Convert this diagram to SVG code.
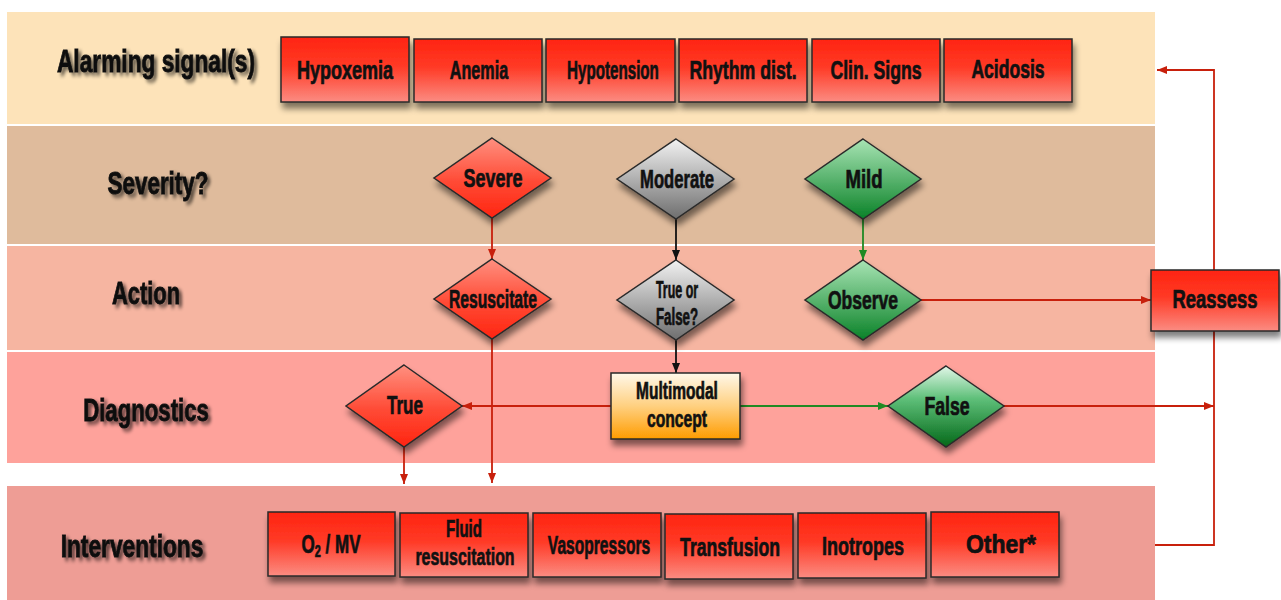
<svg xmlns="http://www.w3.org/2000/svg" width="1281" height="600" viewBox="0 0 1281 600">
<defs>
<style>
.t{font-family:"Liberation Sans",Arial,sans-serif;font-weight:bold;font-size:25px;fill:#111;stroke:#111;stroke-width:0.7;text-anchor:middle}
.h{font-size:32px;stroke-width:0.9;filter:url(#ts)}
.s{font-size:23px}
.box{fill:url(#gBox);stroke:#2a2a2a;stroke-width:1.5;filter:url(#ds)}
.dr{fill:url(#gDR);stroke:#2a2a2a;stroke-width:1.5;filter:url(#ds)}
.dg{fill:url(#gGrey);stroke:#2a2a2a;stroke-width:1.5;filter:url(#ds)}
.dn{fill:url(#gGreen);stroke:#2a2a2a;stroke-width:1.5;filter:url(#ds)}
.dn2{fill:url(#gGreen2);stroke:#2a2a2a;stroke-width:1.5;filter:url(#ds)}
.bo{fill:url(#gOr);stroke:#2a2a2a;stroke-width:1.5;filter:url(#ds)}
.cr{stroke:#c8200c;stroke-width:1.8;fill:none}
.cb{stroke:#111;stroke-width:1.8;fill:none}
.cg{stroke:#1f8a24;stroke-width:1.8;fill:none}
</style>
<linearGradient id="gBox" x1="0" y1="0" x2="0" y2="1"><stop offset="0" stop-color="#ff2410"/><stop offset="0.45" stop-color="#ff3a26"/><stop offset="1" stop-color="#fb8c82"/></linearGradient>
<linearGradient id="gDR" x1="0" y1="0" x2="0" y2="1"><stop offset="0" stop-color="#ff9080"/><stop offset="0.55" stop-color="#ff4a35"/><stop offset="1" stop-color="#ff2410"/></linearGradient>
<linearGradient id="gGrey" x1="0" y1="0" x2="0" y2="1"><stop offset="0" stop-color="#f2f2f2"/><stop offset="1" stop-color="#6e6e6e"/></linearGradient>
<linearGradient id="gGreen" x1="0" y1="0" x2="0" y2="1"><stop offset="0" stop-color="#a8e4b4"/><stop offset="1" stop-color="#0a8228"/></linearGradient>
<linearGradient id="gGreen2" x1="0" y1="0" x2="0" y2="1"><stop offset="0" stop-color="#e2f7e8"/><stop offset="0.4" stop-color="#5fc07a"/><stop offset="1" stop-color="#046818"/></linearGradient>
<linearGradient id="gOr" x1="0" y1="0" x2="0" y2="1"><stop offset="0" stop-color="#fff8ea"/><stop offset="0.5" stop-color="#ffd080"/><stop offset="1" stop-color="#ff9c00"/></linearGradient>
<filter id="ds" x="-15%" y="-15%" width="140%" height="150%"><feGaussianBlur in="SourceAlpha" stdDeviation="3"/><feOffset dx="2" dy="6"/><feComponentTransfer><feFuncA type="linear" slope="0.5"/></feComponentTransfer><feMerge><feMergeNode/><feMergeNode in="SourceGraphic"/></feMerge></filter>
<filter id="ts" x="-10%" y="-30%" width="130%" height="170%"><feGaussianBlur in="SourceAlpha" stdDeviation="2"/><feOffset dx="4" dy="3"/><feComponentTransfer><feFuncA type="linear" slope="0.6"/></feComponentTransfer><feMerge><feMergeNode/><feMergeNode in="SourceGraphic"/></feMerge></filter>
<marker id="mr" viewBox="0 0 10 8" refX="10" refY="4" markerWidth="10" markerHeight="8" markerUnits="userSpaceOnUse" orient="auto"><path d="M0,0 L10,4 L0,8 z" fill="#c8200c"/></marker>
<marker id="mb" viewBox="0 0 10 8" refX="10" refY="4" markerWidth="10" markerHeight="8" markerUnits="userSpaceOnUse" orient="auto"><path d="M0,0 L10,4 L0,8 z" fill="#111"/></marker>
<marker id="mg" viewBox="0 0 10 8" refX="10" refY="4" markerWidth="10" markerHeight="8" markerUnits="userSpaceOnUse" orient="auto"><path d="M0,0 L10,4 L0,8 z" fill="#1f8a24"/></marker>
</defs>
<rect width="1281" height="600" fill="#ffffff"/>
<g id="bands">
<rect x="7" y="12" width="1148" height="112" fill="#fde3b9"/>
<rect x="7" y="126" width="1148" height="118" fill="#dfbb9c"/>
<rect x="7" y="246" width="1148" height="104" fill="#f6b5a1"/>
<rect x="7" y="352" width="1148" height="111" fill="#fea29b"/>
<rect x="7" y="486" width="1148" height="114" fill="#ee9d95"/>
</g>
<g id="row-labels">
<text class="t h" transform="translate(156,72) scale(0.71,1)" textLength="279" lengthAdjust="spacingAndGlyphs">Alarming signal(s)</text>
<text class="t h" transform="translate(158,194) scale(0.71,1)" textLength="142" lengthAdjust="spacingAndGlyphs">Severity?</text>
<text class="t h" transform="translate(146,304) scale(0.71,1)" textLength="96" lengthAdjust="spacingAndGlyphs">Action</text>
<text class="t h" transform="translate(146,421) scale(0.71,1)" textLength="177" lengthAdjust="spacingAndGlyphs">Diagnostics</text>
<text class="t h" transform="translate(132,557) scale(0.71,1)" textLength="201" lengthAdjust="spacingAndGlyphs">Interventions</text>
</g>
<g id="connectors">
<line class="cr" x1="492" y1="218" x2="492" y2="259" marker-end="url(#mr)"/>
<line class="cb" x1="676" y1="219" x2="676" y2="260" marker-end="url(#mb)"/>
<line class="cg" x1="863" y1="219" x2="863" y2="260" marker-end="url(#mg)"/>
<line class="cr" x1="492" y1="339" x2="492" y2="483" marker-end="url(#mr)"/>
<line class="cb" x1="676" y1="340" x2="676" y2="373" marker-end="url(#mb)"/>
<line class="cr" x1="611" y1="406" x2="462" y2="406" marker-end="url(#mr)"/>
<line class="cg" x1="740" y1="406" x2="888" y2="406" marker-end="url(#mg)"/>
<line class="cr" x1="404" y1="447" x2="404" y2="484" marker-end="url(#mr)"/>
<line class="cr" x1="921" y1="300" x2="1151" y2="300" marker-end="url(#mr)"/>
<line class="cr" x1="1004" y1="406" x2="1214" y2="406" marker-end="url(#mr)"/>
<polyline class="cr" points="1214,270 1214,70 1157,70" marker-end="url(#mr)"/>
<polyline class="cr" points="1214,331 1214,545 1155,545"/>
</g>
<g id="n-hypoxemia"><rect class="box" x="281" y="37" width="128" height="65"/><text class="t" transform="translate(345,79) scale(0.62,1)" textLength="155" lengthAdjust="spacingAndGlyphs">Hypoxemia</text></g>
<g id="n-anemia"><rect class="box" x="414" y="39" width="128" height="63"/><text class="t" transform="translate(479,79) scale(0.62,1)" textLength="94" lengthAdjust="spacingAndGlyphs">Anemia</text></g>
<g id="n-hypotension"><rect class="box" x="546" y="39" width="129" height="63"/><text class="t" transform="translate(613,79) scale(0.62,1)" textLength="148" lengthAdjust="spacingAndGlyphs">Hypotension</text></g>
<g id="n-rhythm"><rect class="box" x="679" y="39" width="128" height="63"/><text class="t" transform="translate(743,79) scale(0.62,1)" textLength="173" lengthAdjust="spacingAndGlyphs">Rhythm dist.</text></g>
<g id="n-clin"><rect class="box" x="812" y="39" width="128" height="63"/><text class="t" transform="translate(876,79) scale(0.62,1)" textLength="147" lengthAdjust="spacingAndGlyphs">Clin. Signs</text></g>
<g id="n-acidosis"><rect class="box" x="944" y="39" width="128" height="63"/><text class="t" transform="translate(1008,78) scale(0.62,1)" textLength="118" lengthAdjust="spacingAndGlyphs">Acidosis</text></g>
<g id="n-severe"><polygon class="dr" points="492,138 551,178 492,218 434,178"/><text class="t" transform="translate(493,187) scale(0.62,1)" textLength="95" lengthAdjust="spacingAndGlyphs">Severe</text></g>
<g id="n-moderate"><polygon class="dg" points="676,139 734,179 676,219 617,179"/><text class="t" transform="translate(677,188) scale(0.62,1)" textLength="119" lengthAdjust="spacingAndGlyphs">Moderate</text></g>
<g id="n-mild"><polygon class="dn" points="863,139 921,179 863,219 805,179"/><text class="t" transform="translate(864,188) scale(0.62,1)" textLength="60" lengthAdjust="spacingAndGlyphs">Mild</text></g>
<g id="n-resuscitate"><polygon class="dr" points="492,259 551,299 492,339 434,299"/><text class="t" transform="translate(493,308) scale(0.62,1)" textLength="142" lengthAdjust="spacingAndGlyphs">Resuscitate</text></g>
<g id="n-trueorfalse"><polygon class="dg" points="676,260 734,300 676,340 617,300"/><text class="t s" transform="translate(677,298) scale(0.62,1)" textLength="68" lengthAdjust="spacingAndGlyphs">True or</text><text class="t s" transform="translate(677,325) scale(0.62,1)" textLength="68" lengthAdjust="spacingAndGlyphs">False?</text></g>
<g id="n-observe"><polygon class="dn" points="863,260 921,300 863,340 805,300"/><text class="t" transform="translate(863,309) scale(0.62,1)" textLength="113" lengthAdjust="spacingAndGlyphs">Observe</text></g>
<g id="n-true"><polygon class="dr" points="404,365 462,406 404,447 346,406"/><text class="t" transform="translate(405,414) scale(0.62,1)" textLength="58" lengthAdjust="spacingAndGlyphs">True</text></g>
<g id="n-multimodal"><rect class="bo" x="611" y="373" width="129" height="66"/><text class="t s" transform="translate(677,399) scale(0.62,1)" textLength="132" lengthAdjust="spacingAndGlyphs">Multimodal</text><text class="t s" transform="translate(677,427) scale(0.62,1)" textLength="97" lengthAdjust="spacingAndGlyphs">concept</text></g>
<g id="n-false"><polygon class="dn2" points="946,366 1004,406 946,447 888,406"/><text class="t" transform="translate(947,415) scale(0.62,1)" textLength="73" lengthAdjust="spacingAndGlyphs">False</text></g>
<g id="n-reassess"><rect class="box" x="1151" y="270" width="128" height="61"/><text class="t" transform="translate(1215,308) scale(0.62,1)" textLength="137" lengthAdjust="spacingAndGlyphs">Reassess</text></g>
<g id="n-o2mv"><rect class="box" x="268" y="512" width="127" height="64"/><text class="t" transform="translate(331,553) scale(0.68,1)">O<tspan font-size="16" dy="4">2</tspan><tspan dy="-4"> / MV</tspan></text></g>
<g id="n-fluid"><rect class="box" x="400" y="513" width="128" height="64"/><text class="t s" transform="translate(464,537) scale(0.62,1)" textLength="58" lengthAdjust="spacingAndGlyphs">Fluid</text><text class="t s" transform="translate(465,565) scale(0.62,1)" textLength="160" lengthAdjust="spacingAndGlyphs">resuscitation</text></g>
<g id="n-vasopressors"><rect class="box" x="533" y="513" width="128" height="64"/><text class="t" transform="translate(599,554) scale(0.62,1)" textLength="165" lengthAdjust="spacingAndGlyphs">Vasopressors</text></g>
<g id="n-transfusion"><rect class="box" x="665" y="514" width="128" height="65"/><text class="t" transform="translate(730,556) scale(0.62,1)" textLength="161" lengthAdjust="spacingAndGlyphs">Transfusion</text></g>
<g id="n-inotropes"><rect class="box" x="798" y="513" width="128" height="65"/><text class="t" transform="translate(863,555) scale(0.62,1)" textLength="132" lengthAdjust="spacingAndGlyphs">Inotropes</text></g>
<g id="n-other"><rect class="box" x="931" y="512" width="128" height="65"/><text class="t" transform="translate(1001,553) scale(0.62,1)" textLength="113" lengthAdjust="spacingAndGlyphs">Other*</text></g>
</svg>
